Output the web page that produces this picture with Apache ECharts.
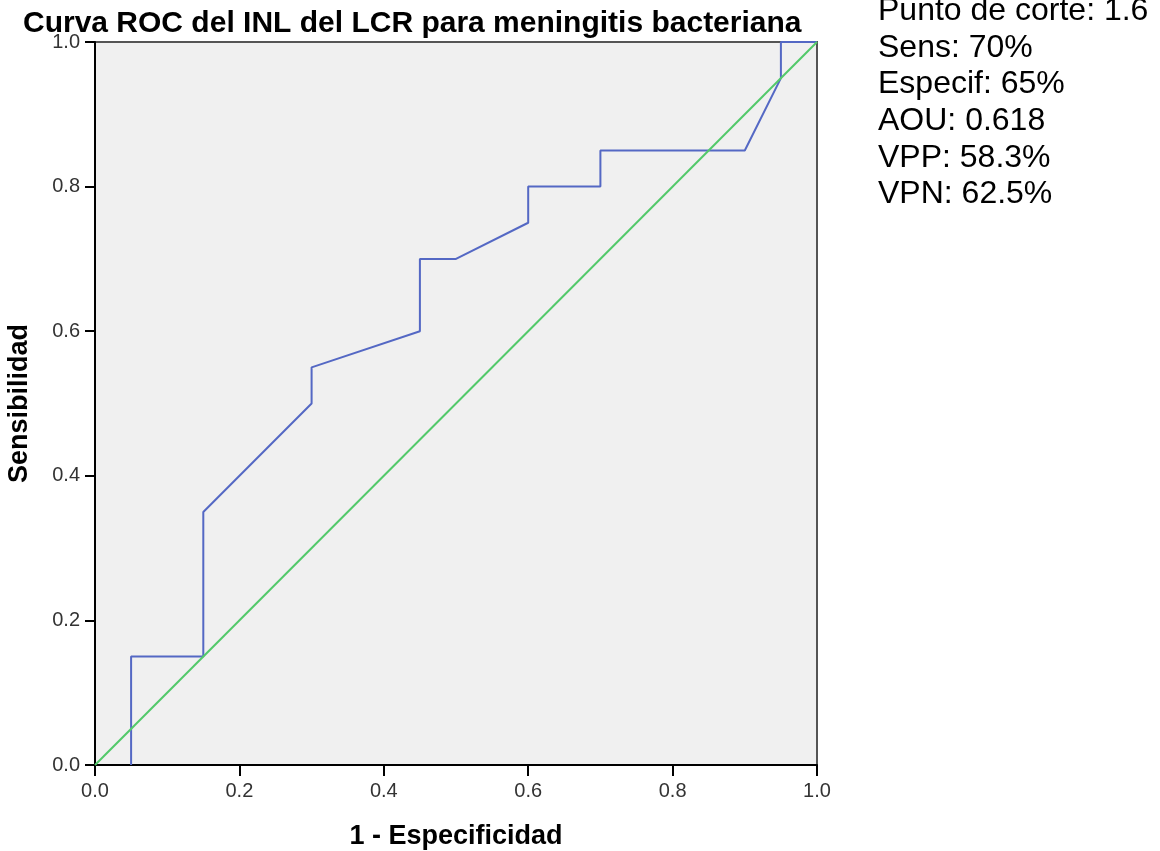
<!DOCTYPE html>
<html>
<head>
<meta charset="utf-8">
<script src="https://cdn.jsdelivr.net/npm/echarts@6/dist/echarts.min.js"></script>
<style>
html,body{margin:0;padding:0;background:#fff;}
#chart{width:1160px;height:851px;}
</style>
</head>
<body>
<div id="chart"></div>
<script>
var titleText = 'Curva ROC del INL del LCR para meningitis bacteriana';
var xAxisTitle = '1 - Especificidad';
var yAxisTitle = 'Sensibilidad';
var rocX = [0.05, 0.05, 0.15, 0.15, 0.30, 0.30, 0.45, 0.45, 0.50, 0.60, 0.60, 0.70, 0.70, 0.90, 0.95, 0.95, 1.00];
var rocY = [0.00, 0.15, 0.15, 0.35, 0.50, 0.55, 0.60, 0.70, 0.70, 0.75, 0.80, 0.80, 0.85, 0.85, 0.95, 1.00, 1.00];
var refX = [0, 1];
var refY = [0, 1];
var annotationLines = ['Punto de corte: 1.6', 'Sens: 70%', 'Especif: 65%', 'AOU: 0.618', 'VPP: 58.3%', 'VPN: 62.5%'];

var rocData = rocX.map(function (x, i) { return [x, rocY[i]]; });
var refData = refX.map(function (x, i) { return [x, refY[i]]; });

var chart = echarts.init(document.getElementById('chart'), null, {renderer: 'canvas'});
var font = 'Liberation Sans, Arial, sans-serif';

chart.setOption({
  animation: false,
  backgroundColor: '#ffffff',
  title: {
    text: titleText,
    left: 18,
    top: 4,
    textStyle: {fontFamily: font, fontSize: 30, fontWeight: 'bold', color: '#000'}
  },
  graphic: [{
    type: 'text',
    left: 878,
    top: -7,
    style: {
      text: annotationLines.join('\n'),
      font: '32px ' + font,
      lineHeight: 36.6,
      fill: '#000'
    }
  }],
  grid: {
    left: 95, right: 343, top: 42, bottom: 86,
    containLabel: false,
    outerBoundsMode: 'none',
    show: true,
    backgroundColor: '#f0f0f0',
    borderColor: '#555',
    borderWidth: 2
  },
  xAxis: {
    type: 'value', min: 0, max: 1, interval: 0.2,
    name: xAxisTitle, nameLocation: 'middle', nameGap: 58,
    nameTextStyle: {fontFamily: font, fontSize: 27, fontWeight: 'bold', color: '#000'},
    axisLine: {show: true, onZero: false, lineStyle: {color: '#000', width: 2}},
    axisTick: {show: true, length: 11, lineStyle: {color: '#000', width: 2}},
    axisLabel: {fontFamily: font, fontSize: 20, color: '#333', margin: 16,
      formatter: function (v) { return v.toFixed(1); }},
    splitLine: {show: false}
  },
  yAxis: {
    type: 'value', min: 0, max: 1, interval: 0.2,
    name: yAxisTitle, nameLocation: 'middle', nameGap: 62,
    nameTextStyle: {fontFamily: font, fontSize: 27, fontWeight: 'bold', color: '#000'},
    axisLine: {show: true, onZero: false, lineStyle: {color: '#000', width: 2}},
    axisTick: {show: true, length: 10, lineStyle: {color: '#000', width: 2}},
    axisLabel: {fontFamily: font, fontSize: 20, color: '#333', margin: 15,
      formatter: function (v) { return v.toFixed(1); }},
    splitLine: {show: false}
  },
  series: [{
    type: 'line',
    data: rocData,
    showSymbol: false,
    lineStyle: {color: '#5468c4', width: 2},
    z: 3
  }, {
    type: 'line',
    data: refData,
    showSymbol: false,
    lineStyle: {color: '#52c96a', width: 2},
    z: 4
  }]
});
</script>
</body>
</html>
